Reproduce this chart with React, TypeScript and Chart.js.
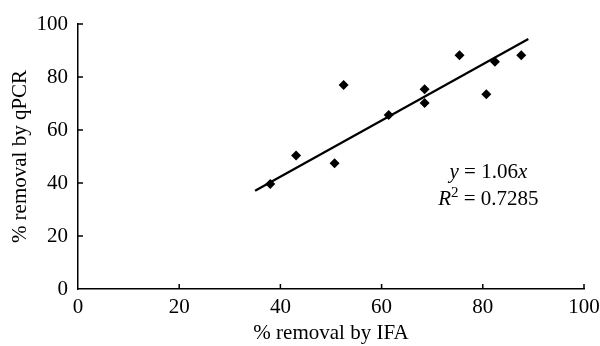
import React, { useEffect, useRef } from "react";
import { Chart, registerables } from "chart.js";

Chart.register(...registerables);

const ifaRemoval = [38.0, 43.1, 50.7, 52.5, 61.4, 68.5, 68.5, 75.4, 80.7, 82.4, 87.6];
const qpcrRemoval = [39.6, 50.4, 47.5, 77.0, 65.7, 75.4, 70.2, 88.2, 73.5, 85.8, 88.2];
const fitSlope = 1.06;
const fitRange = [35, 89];
const tickValues = [0, 20, 40, 60, 80, 100];
const eqText = "1.06";
const r2Text = "0.7285";
const xTitle = "% removal by IFA";
const yTitle = "% removal by qPCR";

const FONT = "'Liberation Serif', 'Times New Roman', serif";

const innerTicks = {
  id: "innerTicks",
  afterDraw(chart: any) {
    const ctx = chart.ctx;
    const xs = chart.scales.x;
    const ys = chart.scales.y;
    const area = chart.chartArea;
    ctx.save();
    ctx.strokeStyle = "#000";
    ctx.lineWidth = 1.5;
    ctx.beginPath();
    tickValues.forEach((v) => {
      if (v === 0) return;
      const px = xs.getPixelForValue(v);
      ctx.moveTo(px, area.bottom);
      ctx.lineTo(px, area.bottom - 5);
      const py = ys.getPixelForValue(v);
      ctx.moveTo(area.left, py);
      ctx.lineTo(area.left + 5, py);
    });
    ctx.stroke();

    // annotation
    ctx.fillStyle = "#000";
    ctx.textBaseline = "middle";
    const size = 21;
    const reg = `${size}px ${FONT}`;
    const ita = `italic ${size}px ${FONT}`;
    const sup = `${Math.round(size * 0.7)}px ${FONT}`;
    const drawParts = (parts: { t: string; f: string; dy?: number }[], cx: number, cy: number) => {
      let w = 0;
      parts.forEach((p) => {
        ctx.font = p.f;
        w += ctx.measureText(p.t).width;
      });
      let x = cx - w / 2;
      ctx.textAlign = "left";
      parts.forEach((p) => {
        ctx.font = p.f;
        ctx.fillText(p.t, x, cy + (p.dy || 0));
        x += ctx.measureText(p.t).width;
      });
    };
    const ax = xs.getPixelForValue(81.1);
    drawParts(
      [
        { t: "y", f: ita },
        { t: " = " + eqText, f: reg },
        { t: "x", f: ita },
      ],
      ax,
      ys.getPixelForValue(43.8)
    );
    drawParts(
      [
        { t: "R", f: ita },
        { t: "2", f: sup, dy: -7 },
        { t: " = " + r2Text, f: reg },
      ],
      ax,
      ys.getPixelForValue(33.6)
    );
    ctx.restore();
  },
};

export default function App() {
  const ref = useRef<HTMLCanvasElement>(null);
  useEffect(() => {
    document.body.style.margin = "0";
    const points = ifaRemoval.map((x, i) => ({ x, y: qpcrRemoval[i] }));
    const fit = fitRange.map((x) => ({ x, y: fitSlope * x }));
    const chart = new Chart(ref.current!, {
      type: "scatter",
      data: {
        datasets: [
          {
            data: points,
            pointStyle: "rectRot",
            pointRadius: 5,
            backgroundColor: "#000",
            borderColor: "#000",
            borderWidth: 0,
          },
          {
            type: "line",
            data: fit,
            borderColor: "#000",
            borderWidth: 2.2,
            pointRadius: 0,
            fill: false,
          } as any,
        ],
      },
      options: {
        animation: false,
        responsive: false,
        maintainAspectRatio: false,
        layout: { padding: { left: 0, top: 24, right: 16, bottom: 0 } },
        plugins: { legend: { display: false }, tooltip: { enabled: false } },
        scales: {
          x: {
            type: "linear",
            min: 0,
            max: 100,
            afterBuildTicks: (s: any) => {
              s.ticks = tickValues.map((v) => ({ value: v }));
            },
            afterFit: (s: any) => {
              s.height = 57;
              s.paddingRight = 0;
              s.paddingLeft = 0;
            },
            grid: { display: false, drawTicks: false },
            border: { display: true, color: "#000", width: 1.5 },
            ticks: {
              color: "#000",
              font: { family: FONT, size: 21 },
              padding: 6,
              maxRotation: 0,
            },
            title: {
              display: true,
              text: xTitle,
              color: "#000",
              font: { family: FONT, size: 21 },
              padding: { top: 2, bottom: 0 },
            },
          },
          y: {
            type: "linear",
            min: 0,
            max: 100,
            afterBuildTicks: (s: any) => {
              s.ticks = tickValues.map((v) => ({ value: v }));
            },
            afterFit: (s: any) => {
              s.width = 78;
              s.paddingTop = 0;
              s.paddingBottom = 0;
            },
            grid: { display: false, drawTicks: false },
            border: { display: true, color: "#000", width: 1.5 },
            ticks: {
              color: "#000",
              font: { family: FONT, size: 21 },
              padding: 10,
            },
            title: {
              display: true,
              text: yTitle,
              color: "#000",
              font: { family: FONT, size: 21 },
              padding: { top: 8, bottom: 4 },
            },
          },
        },
      },
      plugins: [innerTicks],
    });
    return () => chart.destroy();
  }, []);
  return (
    <div style={{ position: "fixed", left: 0, top: 0, width: 600, height: 346, background: "#fff" }}>
      <canvas ref={ref} width={600} height={346} style={{ width: 600, height: 346 }} />
    </div>
  );
}
